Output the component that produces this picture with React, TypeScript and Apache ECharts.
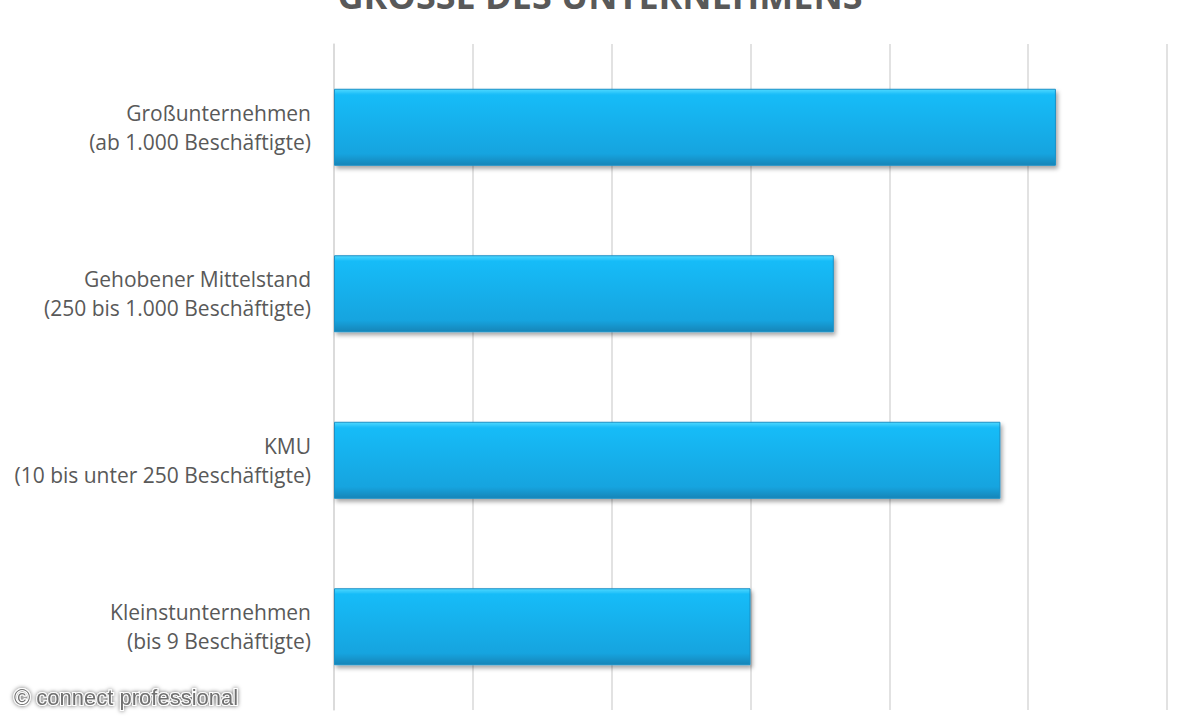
import * as echarts from 'echarts';
import React, { useEffect, useRef } from 'react';

const categories = [
  'Kleinstunternehmen\n(bis 9 Beschäftigte)',
  'KMU\n(10 bis unter 250 Beschäftigte)',
  'Gehobener Mittelstand\n(250 bis 1.000 Beschäftigte)',
  'Großunternehmen\n(ab 1.000 Beschäftigte)',
];
const values = [30, 48, 36, 52];
const axisMin = 0;
const axisMax = 60;
const axisStep = 10;
const titleText = 'GRÖSSE DES UNTERNEHMENS';
const creditText = '© connect professional';

const App: React.FC = () => {
  const ref = useRef<HTMLDivElement>(null);

  useEffect(() => {
    const chart = echarts.init(ref.current, undefined, { renderer: 'svg' });
    chart.setOption({
      animation: false,
      backgroundColor: '#ffffff',
      grid: { left: 334, right: 33, top: 44, bottom: 10, containLabel: false },
      xAxis: {
        type: 'value',
        min: axisMin,
        max: axisMax,
        interval: axisStep,
        axisLabel: { show: false },
        axisLine: { show: false },
        axisTick: { show: false },
        splitLine: { lineStyle: { color: '#d9d9d9', width: 1.5 } },
      },
      yAxis: {
        type: 'category',
        data: categories,
        axisLine: { show: true, lineStyle: { color: '#d9d9d9', width: 1.5 } },
        axisTick: { show: false },
        axisLabel: {
          margin: 23,
          color: '#595959',
          fontFamily: 'Open Sans',
          fontSize: 21,
          lineHeight: 29,
          align: 'right',
        },
      },
      series: [
        {
          type: 'bar',
          data: values,
          barWidth: 77,
          itemStyle: {
            color: new echarts.graphic.LinearGradient(0, 0, 0, 1, [
              { offset: 0, color: '#4fd8ff' },
              { offset: 0.07, color: '#19bcf8' },
              { offset: 0.85, color: '#18a4df' },
              { offset: 1, color: '#1585b8' },
            ]),
            borderColor: '#1a90c6',
            borderWidth: 1,
            shadowColor: 'rgba(0,0,0,0.35)',
            shadowBlur: 4,
            shadowOffsetX: 2,
            shadowOffsetY: 3,
          },
        },
      ],
      graphic: [
        {
          type: 'text',
          left: 'center',
          top: -23,
          style: {
            text: titleText,
            fill: '#595959',
            font: 'bold 36px "Open Sans"',
          },
        },
        {
          type: 'text',
          left: 13,
          top: 685,
          style: {
            text: creditText,
            fill: '#707070',
            font: '22px "Liberation Sans"',
            stroke: '#ffffff',
            lineWidth: 2,
            textShadowColor: 'rgba(0,0,0,0.6)',
            textShadowBlur: 4,
          },
        },
      ],
    });
    return () => {
      chart.dispose();
    };
  }, []);

  return (
    <div
      ref={ref}
      style={{ position: 'fixed', left: 0, top: 0, width: 1200, height: 720 }}
    ></div>
  );
};

export default App;
